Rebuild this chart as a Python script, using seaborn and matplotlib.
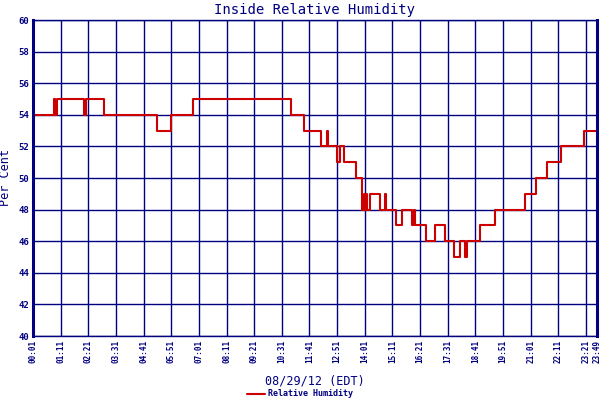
import matplotlib
matplotlib.use("Agg")
import matplotlib.pyplot as plt
import seaborn as sns
import pandas as pd

# change points of the step line (time of day, per cent)
times = ["00:01", "00:54", "00:57", "01:01", "02:10", "02:16", "03:01", "05:15",
         "05:50", "06:46", "10:54", "11:27", "12:10", "12:25", "12:28", "12:50",
         "12:58", "13:08", "13:38", "13:54", "13:58", "14:01", "14:04", "14:06",
         "14:14", "14:39", "14:51", "14:54", "15:19", "15:35", "16:00", "16:05",
         "16:09", "16:36", "16:58", "17:23", "17:46", "18:03", "18:16", "18:20",
         "18:54", "19:32", "20:47", "21:15", "21:43", "22:18", "23:16", "23:49"]
humidity = [54, 55, 54, 55, 54, 55, 54, 53,
            54, 55, 54, 53, 52, 53, 52, 51,
            52, 51, 50, 48, 49, 48, 49, 48,
            49, 48, 49, 48, 47, 48, 47, 48,
            47, 46, 47, 46, 45, 46, 45, 46,
            47, 48, 49, 50, 51, 52, 53, 53]
tick_labels = ["00:01", "01:11", "02:21", "03:31", "04:41", "05:51", "07:01",
               "08:11", "09:21", "10:31", "11:41", "12:51", "14:01", "15:11",
               "16:21", "17:31", "18:41", "19:51", "21:01", "22:11", "23:21", "23:49"]


def to_min(s):
    h, m = s.split(":")
    return int(h) * 60 + int(m)


df = pd.DataFrame({"minute": [to_min(t) for t in times], "rh": humidity})

navy = "#000080"
sns.set_style("white")
plt.rcParams["font.family"] = ["DejaVu Sans Mono", "DejaVu Sans"]

fig = plt.figure(figsize=(6, 4), dpi=100)
ax = fig.add_axes([0.055, 0.16, 0.94, 0.79])

sns.lineplot(data=df, x="minute", y="rh", drawstyle="steps-post",
             color="#cc0000", linewidth=1.5, ax=ax, label="Relative Humidity",
             legend=False)

ax.set_xlim(1, 1429)
ax.set_ylim(40, 60)
ax.set_xticks([to_min(t) for t in tick_labels])
ax.set_xticklabels(tick_labels, rotation=90, fontsize=5.5, fontweight="bold", color=navy)
ax.set_yticks(range(40, 61, 2))
ax.set_yticklabels([str(v) for v in range(40, 61, 2)], fontsize=6.5,
                   fontweight="bold", color=navy)
ax.tick_params(length=0, pad=3)
ax.grid(True, color=navy, linewidth=1.0)
ax.set_axisbelow(True)
for side, sp in ax.spines.items():
    sp.set_color(navy)
    sp.set_linewidth(1.0)
ax.spines["left"].set_linewidth(2.2)
ax.spines["right"].set_linewidth(2.2)

ax.set_title("Inside Relative Humidity", fontsize=10, color=navy, pad=4)
ax.set_ylabel("Per Cent", fontsize=8.5, color=navy)
ax.yaxis.set_label_coords(-0.038, 0.5)
ax.set_xlabel("08/29/12 (EDT)", fontsize=8.5, color=navy, labelpad=8)

handles, labels = ax.get_legend_handles_labels()
fig.legend(handles, labels, loc="center", bbox_to_anchor=(0.5, 0.015),
           frameon=False, prop={"size": 6, "weight": "bold"}, labelcolor=navy,
           handlelength=2.2, handletextpad=0.4)

plt.savefig("out.png", dpi=100)
